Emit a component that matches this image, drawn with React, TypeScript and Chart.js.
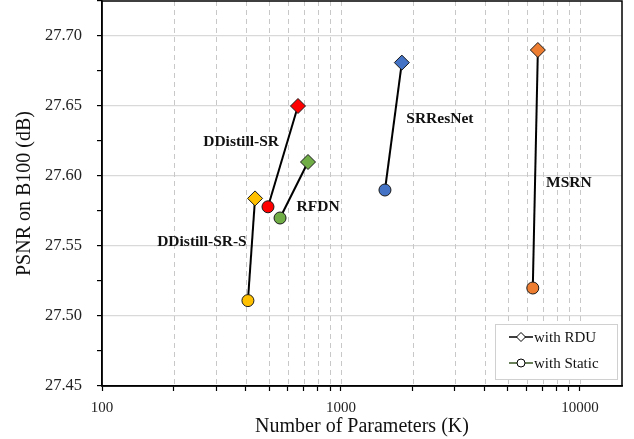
import React, { useEffect, useRef } from "react";
import { Chart, registerables } from "chart.js";
Chart.register(...registerables);

const models = ["MSRN", "SRResNet", "DDistill-SR", "RFDN", "DDistill-SR-S"];
const modelColors = ["#ED7D31", "#4472C4", "#FF0000", "#70AD47", "#FFC000"];
const staticParams = [6350, 1528, 495, 556, 408];
const staticPSNR = [27.52, 27.59, 27.578, 27.57, 27.511];
const rduParams = [6668, 1798, 661, 728, 437];
const rduPSNR = [27.69, 27.681, 27.65, 27.61, 27.584];
const xTicks = [100, 200, 300, 400, 500, 600, 700, 800, 900, 1000, 2000, 3000, 4000, 5000, 6000, 7000, 8000, 9000, 10000];
const xLabelTicks = [100, 1000, 10000];
const yMin = 27.45;
const yMax = 27.725;
// annotation anchor points in data units
const labelX = [8995, 2594, 382, 802, 262];
const labelY = [27.595, 27.641, 27.624, 27.578, 27.553];

const SERIF = "'Liberation Serif', 'Times New Roman', serif";

const overlay = {
  id: "overlay",
  beforeDatasetsDraw(chart: any) {
    const { ctx, chartArea, scales } = chart;
    ctx.save();
    ctx.strokeStyle = "#c8c8c8";
    ctx.lineWidth = 1;
    ctx.setLineDash([5, 4]);
    xTicks.forEach((v) => {
      if (v === 100) return;
      const px = Math.round(scales.x.getPixelForValue(v)) + 0.5;
      ctx.beginPath();
      ctx.moveTo(px, chartArea.top);
      ctx.lineTo(px, chartArea.bottom);
      ctx.stroke();
    });
    ctx.restore();
  },
  afterDatasetsDraw(chart: any) {
    const { ctx, chartArea, scales } = chart;
    ctx.save();
    // frame
    ctx.strokeStyle = "#000";
    ctx.lineWidth = 1.5;
    ctx.strokeRect(chartArea.left, chartArea.top, chartArea.right - chartArea.left, chartArea.bottom - chartArea.top);
    // labels
    ctx.fillStyle = "#111";
    ctx.font = `bold 15.5px ${SERIF}`;
    ctx.textAlign = "center";
    ctx.textBaseline = "middle";
    models.forEach((m, i) => {
      ctx.fillText(m, scales.x.getPixelForValue(labelX[i]), scales.y.getPixelForValue(labelY[i]));
    });
    // legend box
    const bx = chartArea.right - 127;
    const by = chartArea.bottom - 62;
    const bw = 122;
    const bh = 55;
    ctx.fillStyle = "#fff";
    ctx.fillRect(bx, by, bw, bh);
    ctx.strokeStyle = "#d0d0d0";
    ctx.lineWidth = 1;
    ctx.strokeRect(bx + 0.5, by + 0.5, bw, bh);
    const entries = [
      { text: "with RDU", style: "diamond", line: "#000" },
      { text: "with Static", style: "circle", line: "#375623" },
    ];
    entries.forEach((e, i) => {
      const cy = by + 13 + i * 26;
      const lx0 = bx + 14;
      const lx1 = bx + 38;
      const cx = (lx0 + lx1) / 2;
      ctx.strokeStyle = e.line;
      ctx.lineWidth = 1.5;
      ctx.beginPath();
      ctx.moveTo(lx0, cy);
      ctx.lineTo(lx1, cy);
      ctx.stroke();
      ctx.fillStyle = "#fff";
      ctx.strokeStyle = "#000";
      ctx.lineWidth = 1;
      ctx.beginPath();
      if (e.style === "diamond") {
        ctx.moveTo(cx, cy - 4.5);
        ctx.lineTo(cx + 4.5, cy);
        ctx.lineTo(cx, cy + 4.5);
        ctx.lineTo(cx - 4.5, cy);
        ctx.closePath();
      } else {
        ctx.arc(cx, cy, 4, 0, Math.PI * 2);
      }
      ctx.fill();
      ctx.stroke();
      ctx.fillStyle = "#111";
      ctx.font = `15px ${SERIF}`;
      ctx.textAlign = "left";
      ctx.textBaseline = "middle";
      ctx.fillText(e.text, lx1 + 1, cy + 1);
    });
    ctx.restore();
  },
};

export default function App() {
  const ref = useRef<HTMLCanvasElement | null>(null);
  useEffect(() => {
    if (!ref.current) return;
    const datasets = models.map((m, i) => ({
      label: m,
      data: [
        { x: staticParams[i], y: staticPSNR[i] },
        { x: rduParams[i], y: rduPSNR[i] },
      ],
      borderColor: "#000",
      borderWidth: 2,
      showLine: true,
      pointStyle: ["circle", "rectRot"],
      pointRadius: [6, 7.5],
      pointBackgroundColor: modelColors[i],
      pointBorderColor: "#1a1a1a",
      pointBorderWidth: 1,
    }));
    const chart = new Chart(ref.current, {
      type: "scatter",
      data: { datasets: datasets as any },
      options: {
        responsive: false,
        animation: false,
        devicePixelRatio: 1,
        layout: { autoPadding: false, padding: { left: 0, top: 1, right: 12, bottom: 0 } },
        plugins: { legend: { display: false }, tooltip: { enabled: false } },
        scales: {
          x: {
            type: "logarithmic",
            min: 100,
            max: 15000,
            afterBuildTicks: (scale: any) => {
              scale.ticks = xTicks.map((v) => ({ value: v }));
            },
            afterFit: (scale: any) => {
              scale.height = 53;
              scale.paddingLeft = 0;
              scale.paddingRight = 0;
            },
            ticks: {
              autoSkip: false,
              maxRotation: 0,
              padding: 8,
              color: "#222",
              font: { family: SERIF, size: 15 },
              callback: (v: any) => (xLabelTicks.includes(Number(v)) ? String(v) : ""),
            },
            grid: { drawOnChartArea: false, drawTicks: true, tickLength: 5, tickColor: "#000", tickWidth: 1.2 },
            border: { color: "#000", width: 1.5 },
            title: {
              display: true,
              text: "Number of Parameters (K)",
              color: "#111",
              font: { family: SERIF, size: 20 },
              padding: { top: 0, bottom: 0 },
            },
          },
          y: {
            type: "linear",
            min: yMin,
            max: yMax,
            afterFit: (scale: any) => {
              scale.width = 102;
              scale.paddingTop = 0;
              scale.paddingBottom = 0;
            },
            ticks: {
              stepSize: 0.025,
              autoSkip: false,
              padding: 15,
              color: "#222",
              font: { family: SERIF, size: 16.5 },
              callback: (v: any) => {
                const k = Math.round(Number(v) * 1000);
                return k % 50 === 0 ? (k / 1000).toFixed(2) : "";
              },
            },
            grid: {
              color: (c: any) => {
                const k = Math.round(c.tick.value * 1000);
                return k % 50 === 0 && c.tick.value > yMin + 0.001 ? "#d9d9d9" : "rgba(0,0,0,0)";
              },
              lineWidth: 1.2,
              tickLength: 5,
              tickColor: "#000",
              tickWidth: 1.2,
            },
            border: { color: "#000", width: 1.5 },
            title: {
              display: true,
              text: "PSNR on B100 (dB)",
              color: "#111",
              font: { family: SERIF, size: 20 },
              padding: { top: 13, bottom: 0 },
            },
          },
        },
      },
      plugins: [overlay],
    });
    return () => chart.destroy();
  }, []);
  return (
    <div style={{ position: "fixed", left: 0, top: 0, width: 634, height: 439, background: "#fff" }}>
      <canvas ref={ref} width={634} height={439} style={{ width: 634, height: 439, display: "block" }} />
    </div>
  );
}
